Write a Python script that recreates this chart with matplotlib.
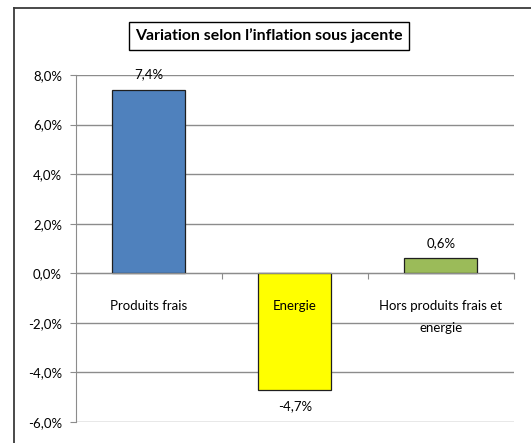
import matplotlib
matplotlib.use("Agg")
import matplotlib.pyplot as plt
from matplotlib.lines import Line2D
from matplotlib.ticker import FuncFormatter, MultipleLocator

# ── Data ──────────────────────────────────────────────────────────────────
categories = ["Produits frais", "Energie", "Hors produits frais et\nenergie"]
values = [7.4, -4.7, 0.6]
bar_colors = ["#4F81BD", "#FFFF00", "#9BBB59"]
title = "Variation selon l\u2019inflation sous jacente"

plt.rcParams["font.family"] = ["Lato", "DejaVu Sans"]
GRID = "#8C8C8C"


def pct(v, _pos=None):
    return f"{v:.1f}%".replace(".", ",")


fig = plt.figure(figsize=(5.31, 4.43), dpi=100, facecolor="white")
ax = fig.add_axes([76 / 531, 1 - 422 / 443, (514 - 76) / 531, (422 - 75) / 443])

x = range(len(categories))
ax.bar(x, values, width=0.5, color=bar_colors, edgecolor="#1F1F1F",
       linewidth=0.9, zorder=3)

ax.set_xlim(-0.5, 2.5)
ax.set_ylim(-6, 8)
ax.yaxis.set_major_locator(MultipleLocator(2))
ax.yaxis.set_major_formatter(FuncFormatter(pct))
ax.grid(axis="y", color=GRID, linewidth=1.0, zorder=1)
ax.tick_params(axis="y", length=4, width=0.8, color=GRID, pad=6,
               labelsize=9.5, labelcolor="black")

# category axis crosses at zero with tick marks between the categories
ax.spines["bottom"].set_position(("data", 0))
ax.spines["bottom"].set_color(GRID)
ax.spines["bottom"].set_zorder(4)
ax.set_xticks([0.5, 1.5, 2.5])
ax.set_xticklabels([])
ax.tick_params(axis="x", length=4, width=0.8, color=GRID, direction="out")
ax.spines["left"].set_color(GRID)
ax.spines["top"].set_visible(False)
ax.spines["right"].set_visible(False)

for i, cat in enumerate(categories):
    ax.annotate(cat, xy=(i, 0), xytext=(0, -19.5), textcoords="offset points",
                ha="center", va="top", fontsize=9.5, zorder=5,
                linespacing=2.0)

for i, v in enumerate(values):
    off = 11.3 if v > 0 else -11.8
    ax.annotate(pct(v), xy=(i, v), xytext=(0, off), textcoords="offset points",
                ha="center", va="center", fontsize=9.5, zorder=5)

# title box
fig.text(269 / 531, 1 - 36 / 443, title, ha="center", va="center",
         fontsize=11.4, fontweight="bold",
         bbox=dict(boxstyle="square,pad=0.42", facecolor="white",
                   edgecolor="black", linewidth=1.0))

# outer chart frame (cropped on the right and bottom)
fig.add_artist(Line2D([14 / 531, 14 / 531], [0, 1 - 8 / 443],
                      transform=fig.transFigure, color="#3A3A3A", linewidth=1.3))
fig.add_artist(Line2D([14 / 531, 1], [1 - 8 / 443, 1 - 8 / 443],
                      transform=fig.transFigure, color="#3A3A3A", linewidth=1.3))

fig.savefig("out.png", dpi=100, facecolor="white")
